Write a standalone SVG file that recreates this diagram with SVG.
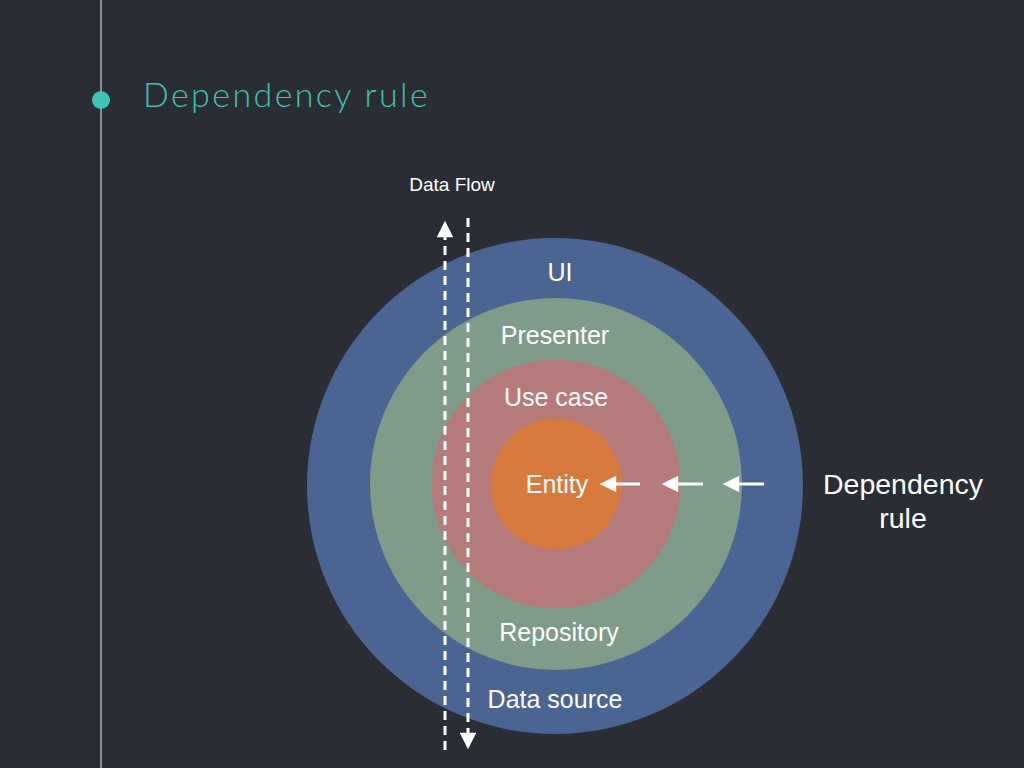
<svg xmlns="http://www.w3.org/2000/svg" width="1024" height="768" viewBox="0 0 1024 768">
<defs>
<style>
.lbl{font-family:"Liberation Sans",Arial,sans-serif;fill:#ffffff;text-anchor:middle;dominant-baseline:central}
.dash{stroke:#ffffff;stroke-width:3;stroke-dasharray:9,6;fill:none}
.dep{stroke:#ffffff;stroke-width:3;fill:none}
</style>
<marker id="ah" viewBox="0 0 10 10" refX="8" refY="5" markerWidth="6" markerHeight="5.5" orient="auto" markerUnits="strokeWidth">
<path d="M0,0 L10,5 L0,10 z" fill="#ffffff"/>
</marker>
</defs>
<rect width="1024" height="768" fill="#2b2d35"/>
<line x1="101" y1="0" x2="101" y2="768" stroke="#8a8d94" stroke-width="2"/>
<circle cx="101" cy="100" r="9" fill="#3ec3b7"/>
<text x="143" y="107" font-family="Lato, 'Open Sans', sans-serif" font-weight="300" font-size="34" fill="#3ec3b7" letter-spacing="2.4">Dependency rule</text>

<g id="ring-ui"><circle cx="555" cy="486" r="248" fill="#4a6591"/></g>
<g id="ring-presenter"><circle cx="556" cy="484" r="186" fill="#7f9c8a"/></g>
<g id="ring-usecase"><circle cx="556" cy="484" r="124.5" fill="#b57a7a"/></g>
<g id="ring-entity"><circle cx="556" cy="484" r="65.5" fill="#d87a3e"/></g>

<g id="connectors">
<line class="dash" x1="445" y1="750" x2="445" y2="224" marker-end="url(#ah)"/>
<line class="dash" x1="468" y1="218" x2="468" y2="746" marker-end="url(#ah)"/>
<line class="dep" x1="640" y1="484" x2="603" y2="484" marker-end="url(#ah)"/>
<line class="dep" x1="703" y1="484" x2="665" y2="484" marker-end="url(#ah)"/>
<line class="dep" x1="764" y1="484" x2="726" y2="484" marker-end="url(#ah)"/>
</g>

<g id="labels">
<text class="lbl" x="560" y="272" font-size="25">UI</text>
<text class="lbl" x="555" y="335" font-size="25">Presenter</text>
<text class="lbl" x="556" y="397" font-size="25">Use case</text>
<text class="lbl" x="557" y="484" font-size="25">Entity</text>
<text class="lbl" x="559" y="632" font-size="25">Repository</text>
<text class="lbl" x="555" y="699" font-size="25">Data source</text>
<text class="lbl" x="452" y="184" font-size="19">Data Flow</text>
<text class="lbl" x="903" y="484" font-size="28.5">Dependency</text>
<text class="lbl" x="903" y="518" font-size="28.5">rule</text>
</g>
</svg>
